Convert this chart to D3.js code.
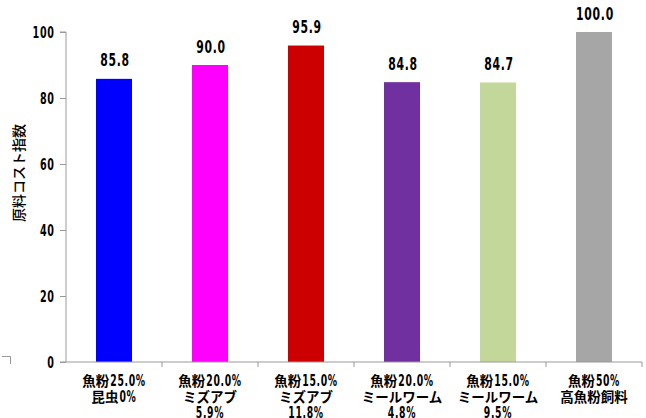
<!DOCTYPE html>
<html><head><meta charset="utf-8">
<script src="https://cdn.jsdelivr.net/npm/d3@7"></script>
<style>
body{margin:0;background:#fff;}
svg{display:block;}
</style></head><body>
<script>
const categories = [
  ["魚粉25.0%","昆虫0%"],
  ["魚粉20.0%","ミズアブ","5.9%"],
  ["魚粉15.0%","ミズアブ","11.8%"],
  ["魚粉20.0%","ミールワーム","4.8%"],
  ["魚粉15.0%","ミールワーム","9.5%"],
  ["魚粉50%","高魚粉飼料"]
];
const values = [85.8, 90.0, 95.9, 84.8, 84.7, 100.0];
const colors = ["#0000FF","#FF00FF","#CC0000","#7030A0","#C4D79B","#A6A6A6"];
const yTicks = [0,20,40,60,80,100];
const yTitle = "原料コスト指数";

const W=646,H=418;
const NUMFONT="'DejaVu Sans',sans-serif";
const CJKFONT="'Noto Sans CJK JP',sans-serif";
const SX=0.62;
const svg=d3.select("body").append("svg").attr("width",W).attr("height",H);
const x=d3.scaleBand().domain(d3.range(categories.length)).range([66,642]).paddingInner(0.625).paddingOuter(0.3125);
const y=d3.scaleLinear().domain([0,100]).range([362,32]);
const axisColor="#999";

// bars
svg.selectAll("rect.bar").data(values).join("rect")
  .attr("x",(d,i)=>x(i)).attr("width",x.bandwidth())
  .attr("y",d=>y(d)).attr("height",d=>y(0)-y(d))
  .attr("fill",(d,i)=>colors[i]);

// condensed number text helper
function numText(g,str,cx,cy,size,anchor,ls){
  return g.append("text").attr("transform",`translate(${cx},${cy}) scale(${SX},1)`)
    .attr("text-anchor",anchor).attr("font-family",NUMFONT).attr("font-weight","bold").attr("font-size",size)
    .attr("letter-spacing",ls||0).attr("fill","#000").text(str);
}

// y axis
const ya=svg.append("g").attr("transform","translate(66,0)")
  .call(d3.axisLeft(y).tickValues(yTicks).tickSize(6).tickFormat(""));
ya.select(".domain").attr("stroke",axisColor).attr("d","M-6,32H0V362H-6");
ya.selectAll(".tick line").attr("stroke",axisColor);
yTicks.forEach(t=>numText(svg,d3.format("d")(t),54.5,y(t)+5.5,15.5,"end",1));

// x axis
const step=x.step();
const xa=svg.append("g");
xa.append("line").attr("x1",66).attr("x2",642).attr("y1",362).attr("y2",362).attr("stroke",axisColor);
xa.selectAll("line.t").data(d3.range(1,categories.length+1)).join("line")
  .attr("x1",i=>66+i*step).attr("x2",i=>66+i*step).attr("y1",362).attr("y2",367).attr("stroke",axisColor);

// mixed-run label line: CJK in Noto, ASCII condensed
function mixedLine(g,str,cx,baseline){
  const runs=[];
  for(const ch of str){
    const a=/[\x20-\x7e]/.test(ch);
    if(runs.length&&runs[runs.length-1].a===a) runs[runs.length-1].s+=ch; else runs.push({a,s:ch});
  }
  const grp=g.append("g");
  let xpos=0;
  runs.forEach((r,k)=>{
    if(k>0) xpos+=1;
    let t;
    if(r.a){
      t=grp.append("text").attr("transform",`translate(${xpos},0) scale(${SX},1)`)
        .attr("font-family",NUMFONT).attr("font-weight","bold").attr("font-size",15)
        .attr("letter-spacing",1).text(r.s);
      xpos+=t.node().getComputedTextLength()*SX;
    }else{
      t=grp.append("text").attr("transform",`translate(${xpos},0)`)
        .attr("font-family",CJKFONT).attr("font-weight","bold").attr("font-size",13.5).text(r.s);
      xpos+=t.node().getComputedTextLength();
    }
  });
  grp.attr("transform",`translate(${cx-xpos/2},${baseline})`).attr("fill","#000");
}
categories.forEach((lines,i)=>{
  const cx=x(i)+x.bandwidth()/2;
  lines.forEach((l,j)=>mixedLine(svg,l,cx,385.5+j*16));
});

// data labels
values.forEach((d,i)=>numText(svg,d3.format(".1f")(d),x(i)+x.bandwidth()/2+1,y(d)-12.5,17.5,"middle",1.2));

// y title
svg.append("text").attr("transform","translate(24,173) rotate(-90)").attr("text-anchor","middle")
  .attr("font-family",CJKFONT).attr("font-weight",500)
  .attr("font-size",14).attr("fill","#000").text(yTitle);

// corner mark bottom-left
svg.append("path").attr("d","M2,356.5H10.5V364").attr("fill","none").attr("stroke",axisColor);
</script>
</body></html>
